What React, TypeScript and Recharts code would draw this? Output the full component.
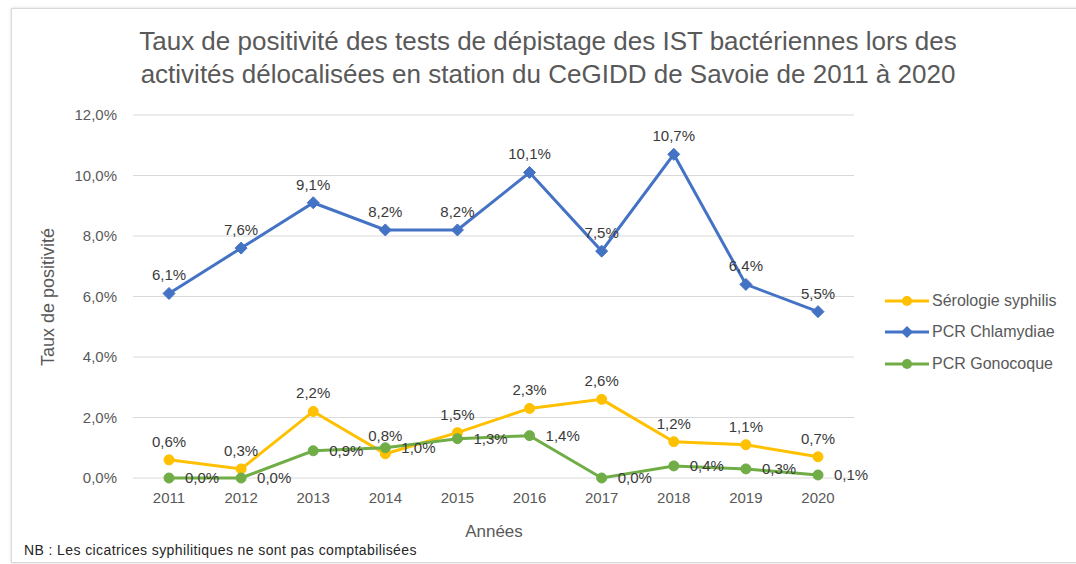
import React from "react";
import { LineChart, Line, XAxis, YAxis, CartesianGrid, LabelList } from "recharts";

const years = ["2011", "2012", "2013", "2014", "2015", "2016", "2017", "2018", "2019", "2020"];
const syphilis = [0.6, 0.3, 2.2, 0.8, 1.5, 2.3, 2.6, 1.2, 1.1, 0.7];
const chlamydiae = [6.1, 7.6, 9.1, 8.2, 8.2, 10.1, 7.5, 10.7, 6.4, 5.5];
const gonocoque = [0.0, 0.0, 0.9, 1.0, 1.3, 1.4, 0.0, 0.4, 0.3, 0.1];
const yTicks = [0, 2, 4, 6, 8, 10, 12];

const series = [
  { key: "syphilis", name: "Sérologie syphilis", color: "#FFC000", marker: "circle" },
  { key: "chlamydiae", name: "PCR Chlamydiae", color: "#4472C4", marker: "diamond" },
  { key: "gonocoque", name: "PCR Gonocoque", color: "#70AD47", marker: "circle" },
];

const data = years.map((year, i) => ({
  year,
  syphilis: syphilis[i],
  chlamydiae: chlamydiae[i],
  gonocoque: gonocoque[i],
}));

const FONT = "'Liberation Sans', Arial, sans-serif";
const fmt = (v: number) => v.toFixed(1).replace(".", ",") + "%";

const circleDot = (color: string) => (props: any) => {
  const { cx, cy, index } = props;
  return <circle key={`c-${color}-${index}`} cx={cx} cy={cy} r={5} fill={color} stroke={color} />;
};

const diamondDot = (color: string) => (props: any) => {
  const { cx, cy, index } = props;
  const s = 6;
  return (
    <polygon
      key={`d-${index}`}
      points={`${cx},${cy - s} ${cx + s},${cy} ${cx},${cy + s} ${cx - s},${cy}`}
      fill={color}
      stroke={color}
    />
  );
};

function LegendIcon({ color, marker }: { color: string; marker: string }) {
  return (
    <svg width={46} height={14} style={{ display: "block" }}>
      <line x1={1} y1={7} x2={45} y2={7} stroke={color} strokeWidth={3} />
      {marker === "diamond" ? (
        <polygon points="23,1 29,7 23,13 17,7" fill={color} />
      ) : (
        <circle cx={23} cy={7} r={5} fill={color} />
      )}
    </svg>
  );
}

export default function App() {
  return (
    <div
      style={{
        position: "absolute",
        left: 0,
        top: 0,
        width: 1076,
        height: 564,
        overflow: "hidden",
        background: "#fff",
        fontFamily: FONT,
      }}
    >
      <div
        style={{
          position: "absolute",
          left: 11,
          top: 8,
          width: 1100,
          height: 553,
          border: "1px solid #d9d9d9",
          boxShadow: "0 0 3px rgba(0,0,0,0.15)",
        }}
      />
      <div
        style={{
          position: "absolute",
          left: 0,
          top: 25,
          width: 1096,
          textAlign: "center",
          fontSize: 26,
          lineHeight: "33px",
          color: "#595959",
        }}
      >
        Taux de positivité des tests de dépistage des IST bactériennes lors des
        <br />
        activités délocalisées en station du CeGIDD de Savoie de 2011 à 2020
      </div>

      <div style={{ position: "absolute", left: 0, top: 0 }}>
        <LineChart
          width={1076}
          height={564}
          data={data}
          margin={{ top: 115, right: 222, bottom: 56, left: 73 }}
        >
          <CartesianGrid stroke="#d9d9d9" vertical={false} />
          <XAxis
            dataKey="year"
            axisLine={false}
            tickLine={false}
            tickSize={0}
            tickMargin={14}
            height={30}
            padding={{ left: 36, right: 36 }}
            tick={{ fill: "#595959", fontSize: 15, fontFamily: FONT }}
          />
          <YAxis
            width={60}
            domain={[0, 12]}
            ticks={yTicks}
            axisLine={false}
            tickLine={false}
            tickSize={0}
            tickMargin={16}
            tickFormatter={fmt}
            tick={{ fill: "#595959", fontSize: 15, fontFamily: FONT }}
          />
          <Line
            dataKey="syphilis"
            stroke="#FFC000"
            strokeWidth={3}
            dot={circleDot("#FFC000")}
            activeDot={false}
            isAnimationActive={false}
          >
            <LabelList dataKey="syphilis" position="top" offset={13} formatter={fmt} fill="#3a3a3a" fontSize={15} fontFamily={FONT} />
          </Line>
          <Line
            dataKey="chlamydiae"
            stroke="#4472C4"
            strokeWidth={3}
            dot={diamondDot("#4472C4")}
            activeDot={false}
            isAnimationActive={false}
          >
            <LabelList dataKey="chlamydiae" position="top" offset={13} formatter={fmt} fill="#3a3a3a" fontSize={15} fontFamily={FONT} />
          </Line>
          <Line
            dataKey="gonocoque"
            stroke="#70AD47"
            strokeWidth={3}
            dot={circleDot("#70AD47")}
            activeDot={false}
            isAnimationActive={false}
          >
            <LabelList dataKey="gonocoque" position="right" offset={16} formatter={fmt} fill="#3a3a3a" fontSize={15} fontFamily={FONT} />
          </Line>
        </LineChart>
      </div>

      <div
        style={{
          position: "absolute",
          left: 48,
          top: 297,
          transform: "translate(-50%, -50%) rotate(-90deg)",
          fontSize: 18,
          color: "#595959",
          whiteSpace: "nowrap",
        }}
      >
        Taux de positivité
      </div>

      <div
        style={{
          position: "absolute",
          left: 494,
          top: 532,
          transform: "translate(-50%, -50%)",
          fontSize: 17,
          color: "#595959",
          whiteSpace: "nowrap",
        }}
      >
        Années
      </div>

      <div
        style={{
          position: "absolute",
          left: 24,
          top: 542,
          fontSize: 14,
          letterSpacing: 0.4,
          color: "#262626",
          whiteSpace: "nowrap",
        }}
      >
        NB : Les cicatrices syphilitiques ne sont pas comptabilisées
      </div>

      <div style={{ position: "absolute", left: 884, top: 285 }}>
        {series.map((s) => (
          <div key={s.key} style={{ display: "flex", alignItems: "center", height: 31.5 }}>
            <LegendIcon color={s.color} marker={s.marker} />
            <span style={{ fontSize: 16, color: "#595959", marginLeft: 2, whiteSpace: "nowrap" }}>{s.name}</span>
          </div>
        ))}
      </div>
    </div>
  );
}
